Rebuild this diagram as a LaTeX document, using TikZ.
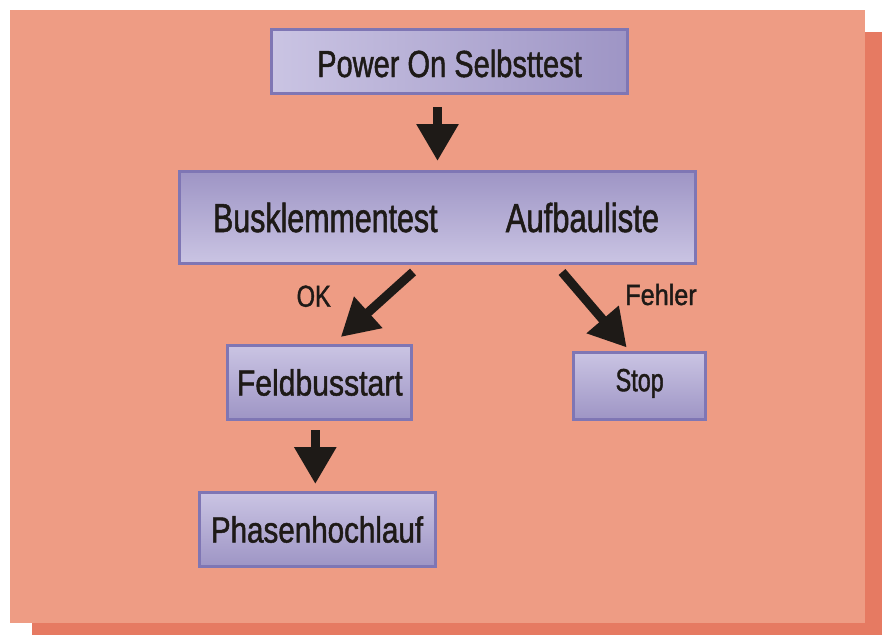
\documentclass[tikz,border=0pt]{standalone}
\usepackage{fontspec}
\setmainfont{Liberation Sans}[FakeBold=1.3]
\usetikzlibrary{arrows.meta}
\definecolor{bgsalmon}{HTML}{EE9C84}
\definecolor{bgshadow}{HTML}{E67A62}
\definecolor{boxborder}{HTML}{7F76B4}
\definecolor{boxlight}{HTML}{CAC4E3}
\definecolor{boxdark}{HTML}{9E95C5}
\definecolor{txt}{HTML}{1E1A17}
\newcommand\fsz[2]{\fontsize{#1}{#1}\selectfont\addfontfeatures{FakeStretch=#2}}
\begin{document}
\begin{tikzpicture}[x=1pt,y=-1pt,
  box/.style={draw=boxborder, line width=3pt, inner sep=0pt, text=txt, text depth=0pt},
  vgrad/.style={top color=boxlight, bottom color=boxdark},
  vgradup/.style={top color=boxdark, bottom color=boxlight},
  hgrad/.style={left color=boxlight, right color=boxdark},
  lbl/.style={inner sep=0pt, text=txt, anchor=base},
  blk/.style={draw=txt, line width=9pt, -{Triangle[width=40pt,length=37pt]}}
]
\useasboundingbox (0,0) rectangle (882,635);
\fill[bgshadow] (32,32) rectangle (882,635);
\fill[bgsalmon] (10,10) rectangle (865,623);

\node[box, hgrad, minimum width=356pt, minimum height=64pt, text height=31pt, font=\fsz{37.7}{0.77}] (pw) at (449.5,61.5) {Power On Selbsttest};

\node[box, vgradup, minimum width=516pt, minimum height=92pt] (bus) at (437.5,217.5) {};
\node[lbl, font=\fsz{40.5}{0.75}] (bk) at (325.3,232) {Busklemmentest};
\node[lbl, font=\fsz{40.5}{0.765}] (al) at (582.4,232) {Aufbauliste};

\node[box, vgrad, minimum width=184pt, minimum height=74pt, text height=26pt, font=\fsz{36.3}{0.83}] (feld) at (319.8,382.5) {Feldbusstart};
\node[box, vgrad, minimum width=132pt, minimum height=67pt, text height=23pt, text depth=12.6pt, font=\fsz{32}{0.73}] (stop) at (639.7,386) {Stop};
\node[box, vgrad, minimum width=236pt, minimum height=74pt, text height=26pt, font=\fsz{36.3}{0.815}] (ph) at (317,529.5) {Phasenhochlauf};

\node[lbl, font=\fsz{30.3}{0.78}] (ok) at (313.7,306.7) {OK};
\node[lbl, font=\fsz{29.3}{0.86}] (fe) at (661,305) {Fehler};

\draw[blk, shorten <=12pt, shorten >=9pt] (pw.south -| bus.north) -- (bus.north);
\draw[blk] ([xshift=-24.5pt,yshift=-7pt]bus.south) -- ([xshift=21pt,yshift=7pt]feld.north);
\draw[blk] ([xshift=124.5pt,yshift=-7pt]bus.south) -- ([xshift=-13pt,yshift=3.5pt]stop.north);
\draw[blk, shorten <=9pt, shorten >=7pt] ([xshift=-4.5pt]feld.south) -- ([xshift=-4.5pt]feld.south |- ph.north);
\end{tikzpicture}
\end{document}
